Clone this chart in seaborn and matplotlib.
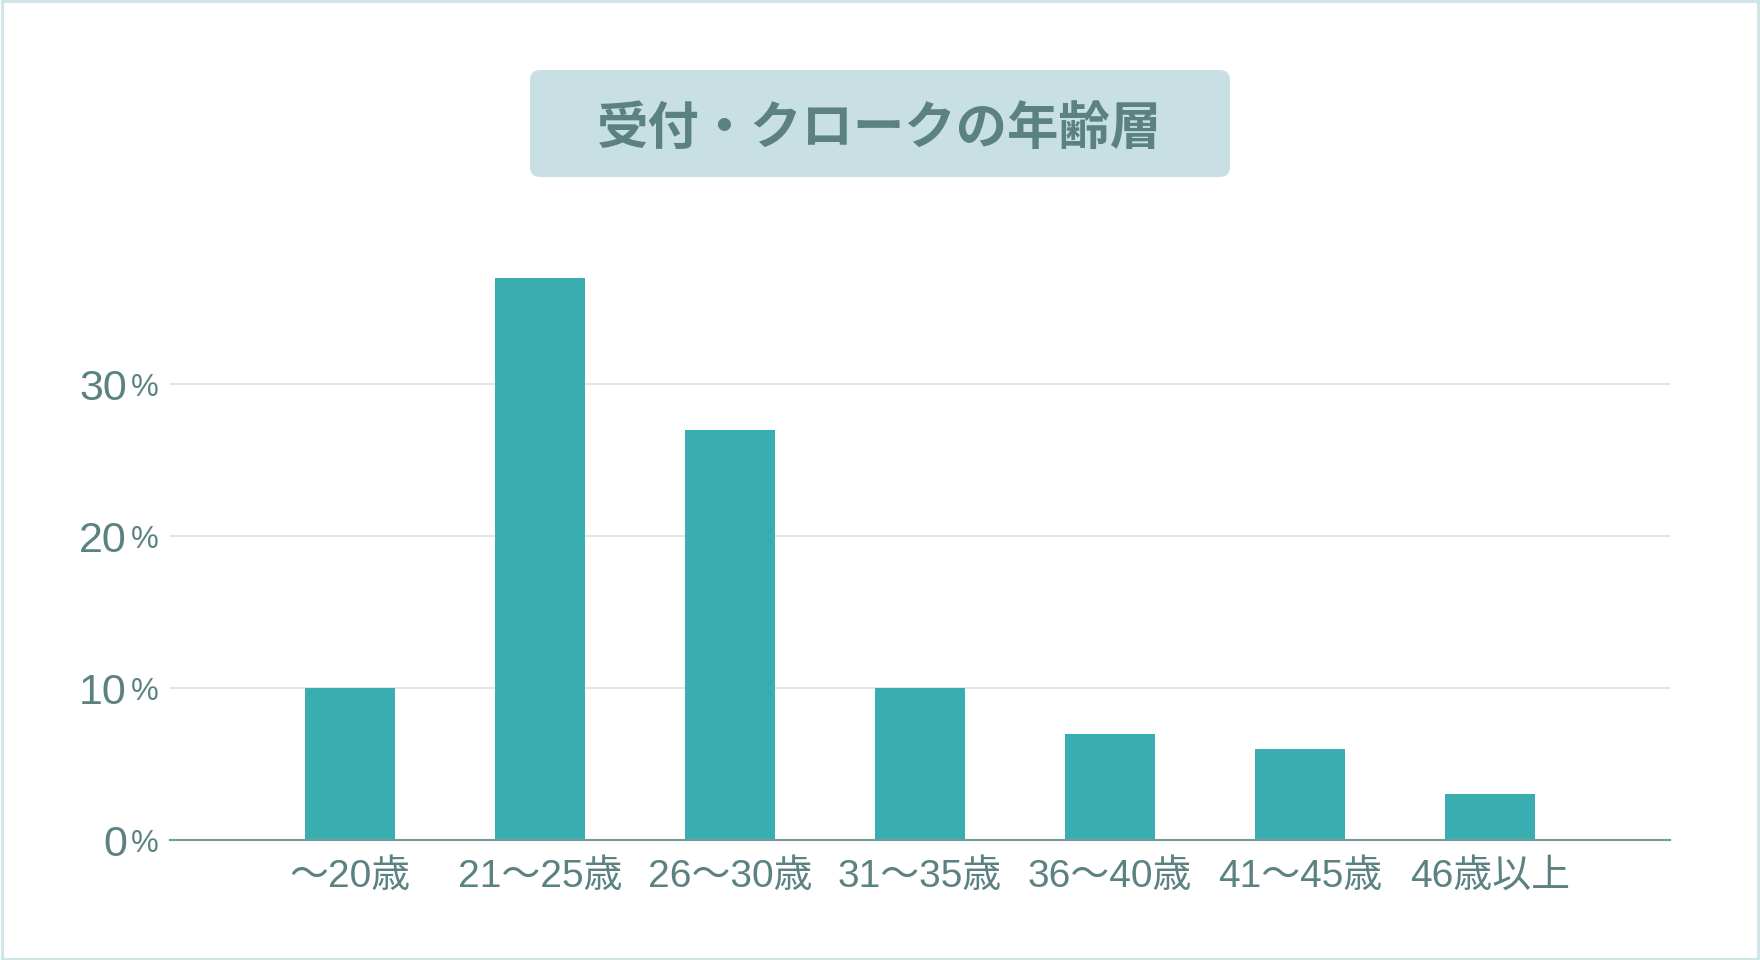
import matplotlib
matplotlib.use("Agg")
import matplotlib.pyplot as plt
import seaborn as sns
import pandas as pd
from matplotlib.patches import FancyBboxPatch, Rectangle

categories = ["〜20歳", "21〜25歳", "26〜30歳", "31〜35歳", "36〜40歳", "41〜45歳", "46歳以上"]
values = [10, 37, 27, 10, 7, 6, 3]
yticks = [0, 10, 20, 30]
title = "受付・クロークの年齢層"

BAR = "#3AADB1"
TXT = "#5B8281"
GRID = "#D5DFE1"
BASE = "#739C9B"
BOX = "#C8E0E3"
BORDER = "#CFE5E8"

sns.set_theme(style="white")
plt.rcParams["font.family"] = ["Liberation Sans", "Noto Sans CJK JP", "DejaVu Sans"]

W, H = 1760, 960
fig = plt.figure(figsize=(W / 100, H / 100), dpi=100)
fig.patch.set_facecolor("white")

# axes placement in pixels: x 170..1670, y bottom 840, top 232 (ylim 0..40)
ax = fig.add_axes([170 / W, (H - 840) / H, 1500 / W, (840 - 232) / H])
df = pd.DataFrame({"cat": categories, "val": values})
sns.barplot(data=df, x="cat", y="val", color=BAR, width=0.474, saturation=1,
            edgecolor="none", ax=ax, zorder=3)
ax.set_xlim(-0.947, 6.947)
ax.set_ylim(0, 40)
ax.set_xlabel("")
ax.set_ylabel("")
ax.set_yticks(yticks)
ax.set_yticklabels([str(v) for v in yticks])
ax.yaxis.grid(True, color=GRID, linewidth=1.1, zorder=0)
ax.xaxis.grid(False)
ax.set_axisbelow(True)
for s in ["left", "right", "top"]:
    ax.spines[s].set_visible(False)
ax.spines["bottom"].set_color(BASE)
ax.spines["bottom"].set_linewidth(1.5)
ax.spines["bottom"].set_zorder(5)
ax.tick_params(axis="both", length=0)
ax.tick_params(axis="y", pad=31, labelsize=31, labelcolor=TXT)
ax.tick_params(axis="x", pad=13.5, labelsize=28, labelcolor=TXT)
for t in ax.get_xticklabels():
    t.set_family(["Liberation Sans", "Noto Sans CJK JP"])

# percent signs after each y tick number
for v in yticks:
    ax.annotate("%", xy=(0, v), xycoords=("axes fraction", "data"),
                xytext=(-8.0, -2.8), textcoords="offset points",
                ha="right", va="center", fontsize=22.5, color=TXT)

# title box
x0, y0, x1, y1 = 530, 70, 1230, 177
box = FancyBboxPatch((x0 / W, (H - y1) / H), (x1 - x0) / W, (y1 - y0) / H,
                     boxstyle=f"round,pad=0,rounding_size={10 / W}",
                     mutation_aspect=W / H, transform=fig.transFigure,
                     facecolor=BOX, edgecolor="none", zorder=1)
fig.patches.append(box)
fig.text(880 / W, (H - 128) / H, title, ha="center", va="center",
         fontsize=37, fontweight="bold", color=TXT,
         family=["Noto Sans CJK JP", "DejaVu Sans"], zorder=2)

# outer border
border = Rectangle((0.001, 0.001), 0.998, 0.998, transform=fig.transFigure,
                   facecolor="none", edgecolor=BORDER, linewidth=2.2, zorder=10)
fig.patches.append(border)

fig.savefig("out.png", dpi=100, facecolor="white")
